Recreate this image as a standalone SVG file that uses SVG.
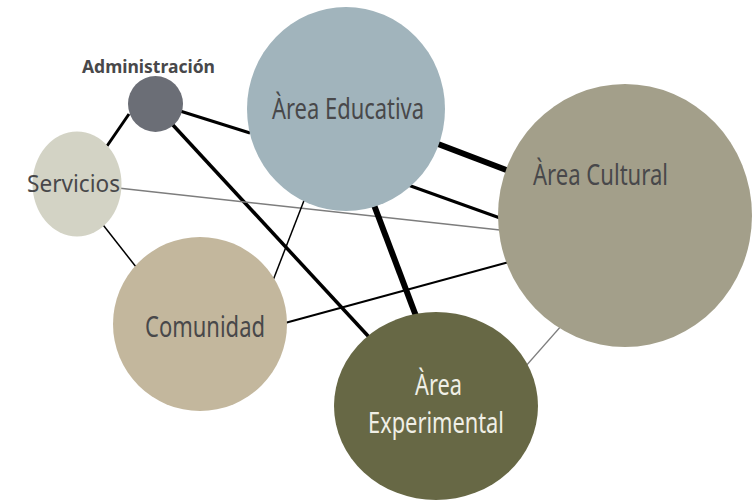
<svg xmlns="http://www.w3.org/2000/svg" width="755" height="501" viewBox="0 0 755 501">
<style>
.lbl{font-family:"Noto Sans","Open Sans","Liberation Sans",sans-serif;fill:#48484a}
.lt{fill:#f0efe6}
.blk{stroke:#000;fill:none;stroke-linecap:butt}
.gry{stroke:#7d7d7d;fill:none}
</style>
<rect width="755" height="501" fill="#fff"/>
<g id="connectors">
<line class="blk" x1="129" y1="114" x2="107" y2="146" stroke-width="3"/>
<line class="blk" x1="180" y1="111" x2="250" y2="133" stroke-width="3"/>
<line class="blk" x1="172" y1="124" x2="369" y2="337" stroke-width="3.5"/>
<line class="blk" x1="100" y1="221" x2="140" y2="272" stroke-width="1.5"/>
<line class="gry" x1="118" y1="188" x2="500" y2="230" stroke-width="1.5"/>
<line class="blk" x1="272" y1="283" x2="305" y2="198" stroke-width="1.5"/>
<line class="blk" x1="285" y1="323" x2="509" y2="262" stroke-width="2"/>
<line class="blk" x1="438" y1="144" x2="509" y2="171" stroke-width="6"/>
<line class="blk" x1="408" y1="185" x2="500" y2="218" stroke-width="3"/>
<line class="blk" x1="374" y1="205" x2="416" y2="316" stroke-width="6"/>
<line class="gry" x1="562" y1="325" x2="525" y2="367" stroke-width="1.2"/>
</g>
<g id="administracion">
<ellipse cx="155.5" cy="104" rx="27.5" ry="28" fill="#6b6e76"/>
<text class="lbl" x="82" y="73" font-size="18" font-weight="bold" textLength="133" lengthAdjust="spacingAndGlyphs">Administración</text>
</g>
<g id="servicios">
<ellipse cx="77" cy="184" rx="44.5" ry="52.5" fill="#d3d3c5"/>
<text class="lbl" x="27" y="192" font-size="24" textLength="93" lengthAdjust="spacingAndGlyphs">Servicios</text>
</g>
<g id="area-educativa">
<ellipse cx="346" cy="109" rx="99" ry="102" fill="#a1b4bc"/>
<text class="lbl" x="272" y="119" font-size="29" textLength="152" lengthAdjust="spacingAndGlyphs">Àrea Educativa</text>
</g>
<g id="area-cultural">
<ellipse cx="625" cy="215.5" rx="127" ry="131.5" fill="#a39f8a"/>
<text class="lbl" x="533" y="185" font-size="29" textLength="135" lengthAdjust="spacingAndGlyphs">Àrea Cultural</text>
</g>
<g id="comunidad">
<ellipse cx="200" cy="324" rx="87" ry="87" fill="#c3b79d"/>
<text class="lbl" x="145" y="337" font-size="29" textLength="120" lengthAdjust="spacingAndGlyphs">Comunidad</text>
</g>
<g id="area-experimental">
<ellipse cx="436" cy="406" rx="102" ry="94" fill="#676845"/>
<text class="lbl lt" x="415" y="395" font-size="29" textLength="47" lengthAdjust="spacingAndGlyphs">Àrea</text>
<text class="lbl lt" x="368" y="433" font-size="29" textLength="136" lengthAdjust="spacingAndGlyphs">Experimental</text>
</g>
</svg>
